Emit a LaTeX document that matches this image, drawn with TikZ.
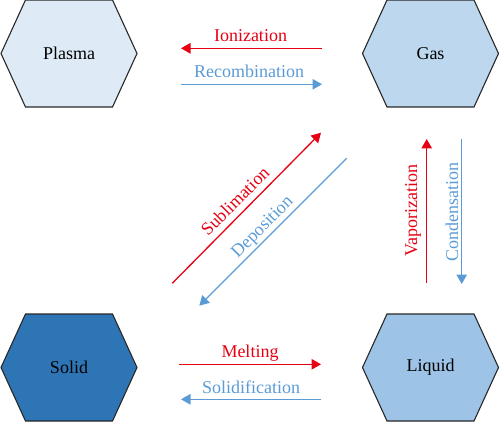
\documentclass[tikz,border=0pt]{standalone}
\usepackage{fontspec}
\setmainfont{Liberation Serif}
\usetikzlibrary{arrows.meta,shapes.symbols}
\definecolor{cred}{RGB}{230,0,18}
\definecolor{cblue}{RGB}{91,155,213}
\definecolor{fplasma}{RGB}{222,235,247}
\definecolor{fgas}{RGB}{189,215,238}
\definecolor{fliquid}{RGB}{157,195,230}
\definecolor{fsolid}{RGB}{46,117,182}
\definecolor{edge}{RGB}{40,40,40}
\begin{document}
\begin{tikzpicture}[x=1pt,y=-1pt,
  font=\fontsize{18}{21}\selectfont,
  hexa/.style={shape=signal, signal to=east and west, signal pointer angle=130.8,
    minimum width=136pt, minimum height=107pt, inner sep=0pt,
    draw=edge, line width=1.1pt},
  redarr/.style={draw=cred, line width=1.3pt, -{Triangle[length=9.5pt,width=10.5pt]}},
  bluearr/.style={draw=cblue, line width=1.3pt, -{Triangle[length=9.5pt,width=10.5pt]}},
  redlab/.style={text=cred, inner sep=0pt},
  bluelab/.style={text=cblue, inner sep=0pt}]
\useasboundingbox (0,0) rectangle (500,422);
% states
\node[hexa, fill=fplasma] (plasma) at (69,53.5) {Plasma};
\node[hexa, fill=fgas] (gas) at (430.5,53.5) {Gas};
\node[hexa, fill=fsolid] (solid) at (69,367.5) {Solid};
\node[hexa, fill=fliquid] (liquid) at (430.5,367.5) {Liquid};
% endpoints
\coordinate (ion1) at (322,48.3);   \coordinate (ion2) at (181,48.3);
\coordinate (rec1) at (181,84.3);   \coordinate (rec2) at (322,84.3);
\coordinate (mel1) at (179,364.3);  \coordinate (mel2) at (321,364.3);
\coordinate (sol1) at (321,399.3);  \coordinate (sol2) at (181,399.3);
\coordinate (vap1) at (426.7,283);  \coordinate (vap2) at (426.7,139);
\coordinate (con1) at (461.7,139);  \coordinate (con2) at (461.7,284);
\coordinate (sub1) at (172.3,283.3); \coordinate (sub2) at (321,132.7);
\coordinate (dep1) at (346.7,158.3); \coordinate (dep2) at (199.3,305.7);
% arrows
\draw[redarr] (ion1) -- (ion2);
\draw[bluearr] (rec1) -- (rec2);
\draw[redarr] (mel1) -- (mel2);
\draw[bluearr] (sol1) -- (sol2);
\draw[redarr] (vap1) -- (vap2);
\draw[bluearr] (con1) -- (con2);
\draw[redarr] (sub1) -- (sub2);
\draw[bluearr] (dep1) -- (dep2);
% labels
\node[redlab, anchor=base] (lion) at (250.5,42) {Ionization};
\node[bluelab, anchor=base] (lrec) at (249,78) {Recombination};
\node[redlab, anchor=base] (lmel) at (250,357) {Melting};
\node[bluelab, anchor=base] (lsol) at (251,393) {Solidification};
\node[redlab, anchor=base, rotate=90] (lvap) at (417,211) {Vaporization};
\node[bluelab, anchor=base, rotate=90] (lcon) at (458,212) {Condensation};
\node[redlab, rotate=45] (lsub) at (235,201) {Sublimation};
\node[bluelab, rotate=45] (ldep) at (263,227.5) {Deposition};
\end{tikzpicture}
\end{document}
